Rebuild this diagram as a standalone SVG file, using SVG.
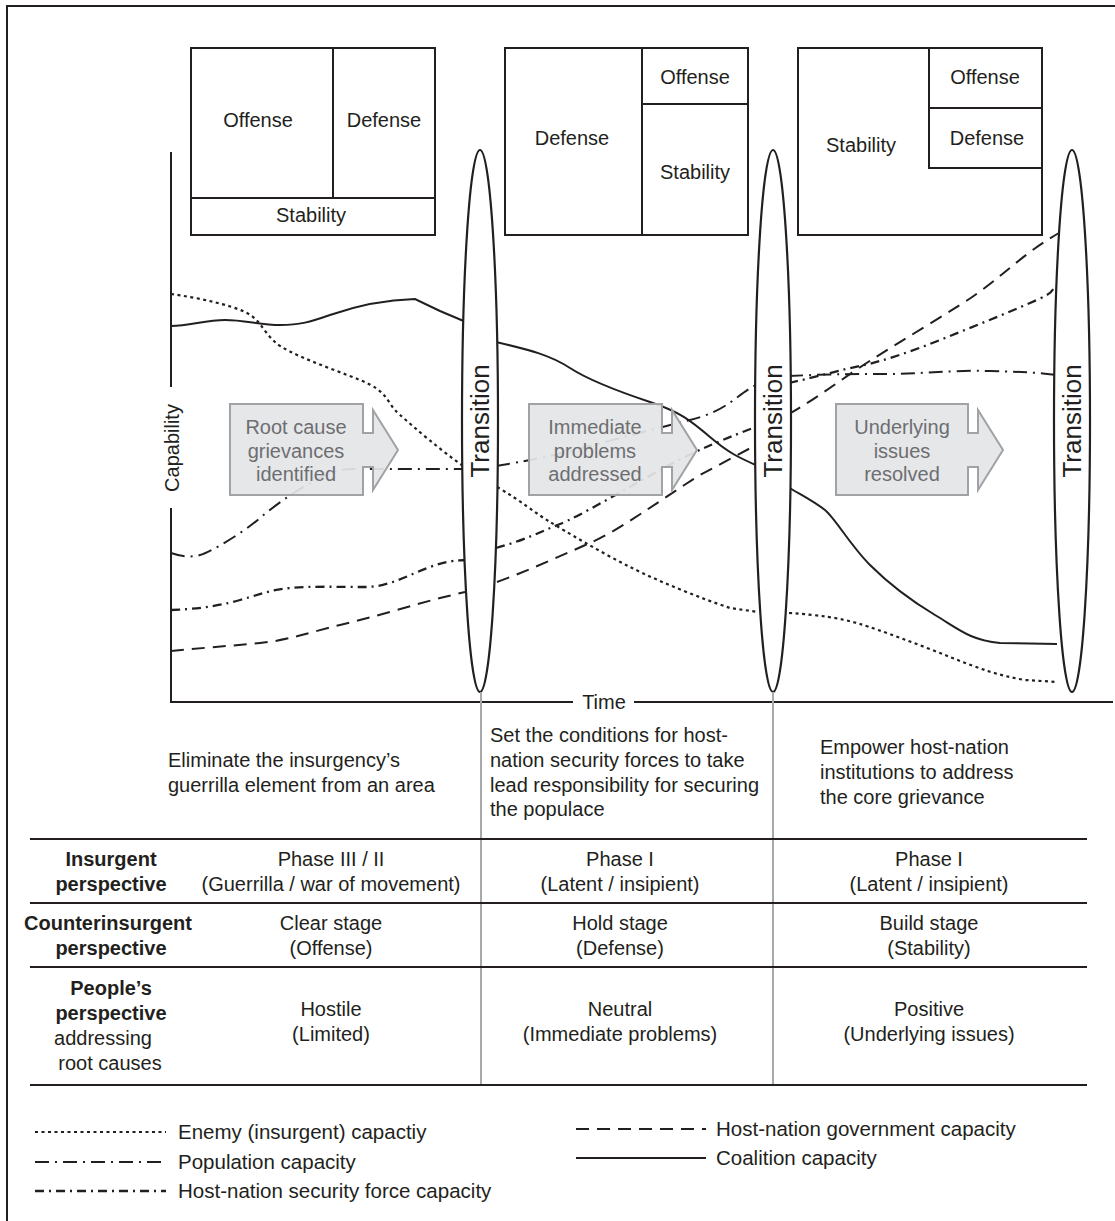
<svg xmlns="http://www.w3.org/2000/svg" width="1115" height="1221" viewBox="0 0 1115 1221">
<style>
text{font-family:"Liberation Sans",Arial,Helvetica,sans-serif;font-size:20px;fill:#231f20}
.c{text-anchor:middle}
.b{font-weight:bold}
.ln{fill:none;stroke:#231f20;stroke-width:2}
.bx{fill:#fff;stroke:#231f20;stroke-width:2}
.ell{fill:#fff;stroke:#231f20;stroke-width:2.2}
.gr{fill:none;stroke:#a7a9ac;stroke-width:2}
.tr{font-size:26px}
.cv{fill:none;stroke:#231f20;stroke-width:2}
.enemy{stroke-dasharray:3 3.5;stroke-width:2.2}
.pop{stroke-dasharray:14 6 2 6}
.sec{stroke-dasharray:9 5 2 5;stroke-width:2.3}
.gov{stroke-dasharray:13 8}
.arr{fill:#e4e5e7;fill-opacity:0.93;stroke:#a0a2a5;stroke-width:2}
.at{fill:#6d6e71}
.lg{font-size:20.5px}
</style>

<g id="frame">
<path class="ln" d="M7,1221 V6 H1115"/>
</g>

<g id="box-clear">
<rect class="bx" x="191" y="48" width="244" height="187"/>
<path class="ln" d="M191,198 H435 M333,48 V198"/>
<text class="c" x="258" y="127">Offense</text>
<text class="c" x="384" y="127">Defense</text>
<text class="c" x="311" y="222">Stability</text>
</g>
<g id="box-hold">
<rect class="bx" x="505" y="48" width="243" height="187"/>
<path class="ln" d="M642,48 V235 M642,104 H748"/>
<text class="c" x="572" y="145">Defense</text>
<text class="c" x="695" y="84">Offense</text>
<text class="c" x="695" y="179">Stability</text>
</g>
<g id="box-build">
<rect class="bx" x="798" y="48" width="244" height="187"/>
<path class="ln" d="M929,48 V168 H1042 M929,108 H1042"/>
<text class="c" x="861" y="152">Stability</text>
<text class="c" x="985" y="84">Offense</text>
<text class="c" x="987" y="145">Defense</text>
</g>

<g id="axes">
<path class="ln" d="M171,152 V387 M171,508 V702 H573 M634,702 H1113"/>
<text class="c" transform="translate(172,448) rotate(-90)" y="7">Capability</text>
<text class="c" x="604" y="709">Time</text>
</g>

<g id="connectors">
<g id="coalition">
<path class="cv" d="M171,326 C190,326 205,320 225,320 S260,325 280,325 S310,322 330,315 S380,300 415,299 L440,311 L466,322"/>
<path class="cv" d="M496,342 C530,350 550,355 570,368 S620,392 650,402 S690,420 710,437 S740,458 758,466"/>
<path class="cv" d="M788,487 C805,497 815,502 825,510 S850,545 870,565 S910,600 935,615 S970,640 1000,643 L1057,644"/>
</g>
<g id="enemy">
<path class="cv enemy" d="M171,294 C200,298 230,305 245,312 S262,330 275,342 S330,368 360,380 S385,402 400,415 S440,450 466,468"/>
<path class="cv enemy" d="M497,487 C520,500 535,513 550,522 S600,552 630,567 S700,598 730,608 L758,612"/>
<path class="cv enemy" d="M789,613 C820,615 840,618 860,624 S920,645 950,657 S1000,676 1025,680 L1058,682"/>
</g>
<g id="population">
<path class="cv pop" d="M171,553 C180,556 190,558 200,555 S240,535 260,518 S300,488 320,478 S345,469 360,469 L465,469"/>
<path class="cv pop" d="M496,466 C520,462 530,460 545,457 S650,430 690,420 S735,395 758,384"/>
<path class="cv pop" d="M789,376 C830,374 860,374 890,374 S950,370 990,371 S1040,373 1056,375"/>
</g>
<g id="security">
<path class="cv sec" d="M171,610 C195,609 215,607 240,600 S270,590 290,588 S340,587 365,587 S410,574 430,567 S455,561 465,560"/>
<path class="cv sec" d="M496,548 C525,540 540,532 560,524 S620,492 660,470 S730,437 758,426"/>
<path class="cv sec" d="M789,383 C820,376 840,370 860,366 S910,352 940,340 S1000,316 1030,303 S1048,292 1057,285"/>
</g>
<g id="government">
<path class="cv gov" d="M171,651 C200,648 230,646 260,643 S310,632 340,625 S410,606 440,598 L465,592"/>
<path class="cv gov" d="M497,582 C530,570 560,556 590,543 S660,500 700,475 L758,444"/>
<path class="cv gov" d="M789,414 C810,402 830,388 850,374 S920,330 960,305 S1020,255 1059,233"/>
</g>
</g>

<g id="transition-1">
<ellipse class="ell" cx="480" cy="421" rx="18" ry="271"/>
<text class="c tr" transform="translate(480,421) rotate(-90)" y="9">Transition</text>
</g>
<g id="transition-2">
<ellipse class="ell" cx="773" cy="421" rx="18" ry="271"/>
<text class="c tr" transform="translate(773,421) rotate(-90)" y="9">Transition</text>
</g>
<g id="transition-3">
<ellipse class="ell" cx="1072" cy="421" rx="18" ry="271"/>
<text class="c tr" transform="translate(1072,421) rotate(-90)" y="9">Transition</text>
</g>

<g id="arrow-root">
<path class="arr" d="M230,404 H363 V433 H373 V410 L398,450 L373,490 V467 H363 V495 H230 Z"/>
<text class="c at" x="296" y="434">Root cause</text>
<text class="c at" x="296" y="458">grievances</text>
<text class="c at" x="296" y="481">identified</text>
</g>
<g id="arrow-immediate">
<path class="arr" d="M529,404 H662 V433 H672 V410 L697,450 L672,490 V467 H662 V495 H529 Z"/>
<text class="c at" x="595" y="434">Immediate</text>
<text class="c at" x="595" y="458">problems</text>
<text class="c at" x="595" y="481">addressed</text>
</g>
<g id="arrow-underlying">
<path class="arr" d="M836,404 H968 V433 H978 V410 L1003,450 L978,490 V467 H968 V495 H836 Z"/>
<text class="c at" x="902" y="434">Underlying</text>
<text class="c at" x="902" y="458">issues</text>
<text class="c at" x="902" y="481">resolved</text>
</g>

<g id="table">
<path class="gr" d="M481,692 V1085 M773,692 V1085"/>
<path class="ln" d="M30,839 H1087 M30,903 H1087 M30,967 H1087 M30,1085 H1087"/>
<text x="168" y="767">Eliminate the insurgency’s</text>
<text x="168" y="792">guerrilla element from an area</text>
<text x="490" y="742">Set the conditions for host-</text>
<text x="490" y="767">nation security forces to take</text>
<text x="490" y="792">lead responsibility for securing</text>
<text x="490" y="816">the populace</text>
<text x="820" y="754">Empower host-nation</text>
<text x="820" y="779">institutions to address</text>
<text x="820" y="804">the core grievance</text>

<text class="c b" x="111" y="866">Insurgent</text>
<text class="c b" x="111" y="891">perspective</text>
<text class="c" x="331" y="866">Phase III / II</text>
<text class="c" x="331" y="891">(Guerrilla / war of movement)</text>
<text class="c" x="620" y="866">Phase I</text>
<text class="c" x="620" y="891">(Latent / insipient)</text>
<text class="c" x="929" y="866">Phase I</text>
<text class="c" x="929" y="891">(Latent / insipient)</text>

<text class="c b" x="108" y="930">Counterinsurgent</text>
<text class="c b" x="111" y="955">perspective</text>
<text class="c" x="331" y="930">Clear stage</text>
<text class="c" x="331" y="955">(Offense)</text>
<text class="c" x="620" y="930">Hold stage</text>
<text class="c" x="620" y="955">(Defense)</text>
<text class="c" x="929" y="930">Build stage</text>
<text class="c" x="929" y="955">(Stability)</text>

<text class="c b" x="111" y="995">People’s</text>
<text class="c b" x="111" y="1020">perspective</text>
<text class="c" x="103" y="1045">addressing</text>
<text class="c" x="110" y="1070">root causes</text>
<text class="c" x="331" y="1016">Hostile</text>
<text class="c" x="331" y="1041">(Limited)</text>
<text class="c" x="620" y="1016">Neutral</text>
<text class="c" x="620" y="1041">(Immediate problems)</text>
<text class="c" x="929" y="1016">Positive</text>
<text class="c" x="929" y="1041">(Underlying issues)</text>
</g>

<g id="legend">
<path class="cv enemy" d="M35,1132 H166"/>
<text class="lg" x="178" y="1139">Enemy (insurgent) capactiy</text>
<path class="cv pop" d="M35,1162 H166"/>
<text class="lg" x="178" y="1169">Population capacity</text>
<path class="cv sec" d="M35,1191 H166"/>
<text class="lg" x="178" y="1198">Host-nation security force capacity</text>
<path class="cv gov" d="M576,1129 H706"/>
<text class="lg" x="716" y="1136">Host-nation government capacity</text>
<path class="cv" d="M576,1158 H706"/>
<text class="lg" x="716" y="1165">Coalition capacity</text>
</g>
</svg>
